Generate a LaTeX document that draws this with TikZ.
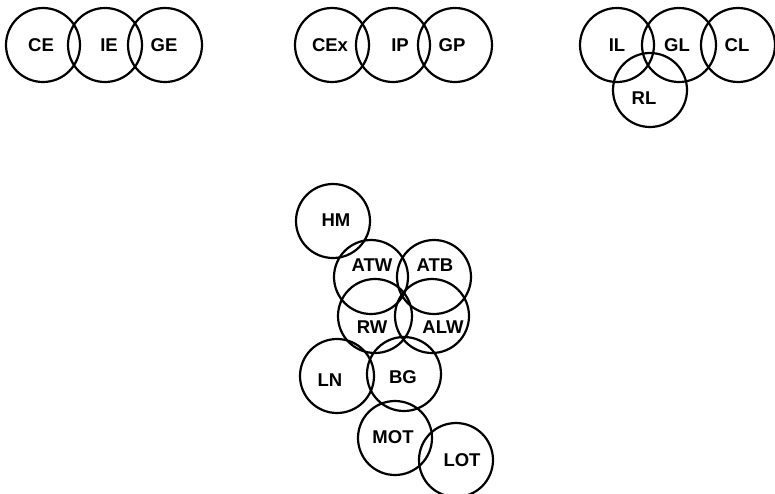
\documentclass[tikz,border=0pt]{standalone}
\usepackage{fontspec}
\setmainfont{Liberation Sans}
\begin{document}
\begin{tikzpicture}[x=1pt,y=-1pt,
  ring/.style={circle,draw=black,line width=2.2pt,minimum size=74pt,inner sep=0pt},
  lbl/.style={font=\fontsize{18.5}{20}\selectfont\bfseries,inner sep=0pt}]
\useasboundingbox (0,0) rectangle (775,493);
% group 1
\node[ring] (cCE) at (43,45) {};
\node[ring] (cIE) at (105,45) {};
\node[ring] (cGE) at (165,45) {};
\node[lbl] (tCE) at (41,45) {CE};
\node[lbl] (tIE) at (109,45) {IE};
\node[lbl] (tGE) at (164,45) {GE};
% group 2
\node[ring] (cCEx) at (332,45) {};
\node[ring] (cIP) at (393,45) {};
\node[ring] (cGP) at (455,45) {};
\node[lbl] (tCEx) at (330,45) {CEx};
\node[lbl] (tIP) at (400,45) {IP};
\node[lbl] (tGP) at (452,45) {GP};
% group 3
\node[ring] (cIL) at (617,45) {};
\node[ring] (cGL) at (679,45) {};
\node[ring] (cCL) at (738,45) {};
\node[ring] (cRL) at (650,90) {};
\node[lbl] (tIL) at (617,45) {IL};
\node[lbl] (tGL) at (677,45) {GL};
\node[lbl] (tCL) at (737,45) {CL};
\node[lbl] (tRL) at (644,98) {RL};
% bottom group
\node[ring] (cHM) at (333,221) {};
\node[ring] (cATW) at (371,277) {};
\node[ring] (cATB) at (434,277) {};
\node[ring] (cRW) at (375,316) {};
\node[ring] (cALW) at (432,316) {};
\node[ring] (cLN) at (337,376) {};
\node[ring] (cBG) at (404,374) {};
\node[ring] (cMOT) at (395,438) {};
\node[ring] (cLOT) at (456,460) {};
\node[lbl] (tHM) at (336,220) {HM};
\node[lbl] (tATW) at (372,265) {ATW};
\node[lbl] (tATB) at (435,265) {ATB};
\node[lbl] (tRW) at (372,327) {RW};
\node[lbl] (tALW) at (443,327) {ALW};
\node[lbl] (tLN) at (330,380) {LN};
\node[lbl] (tBG) at (403,377) {BG};
\node[lbl] (tMOT) at (393,437) {MOT};
\node[lbl] (tLOT) at (462,460) {LOT};
\end{tikzpicture}
\end{document}
